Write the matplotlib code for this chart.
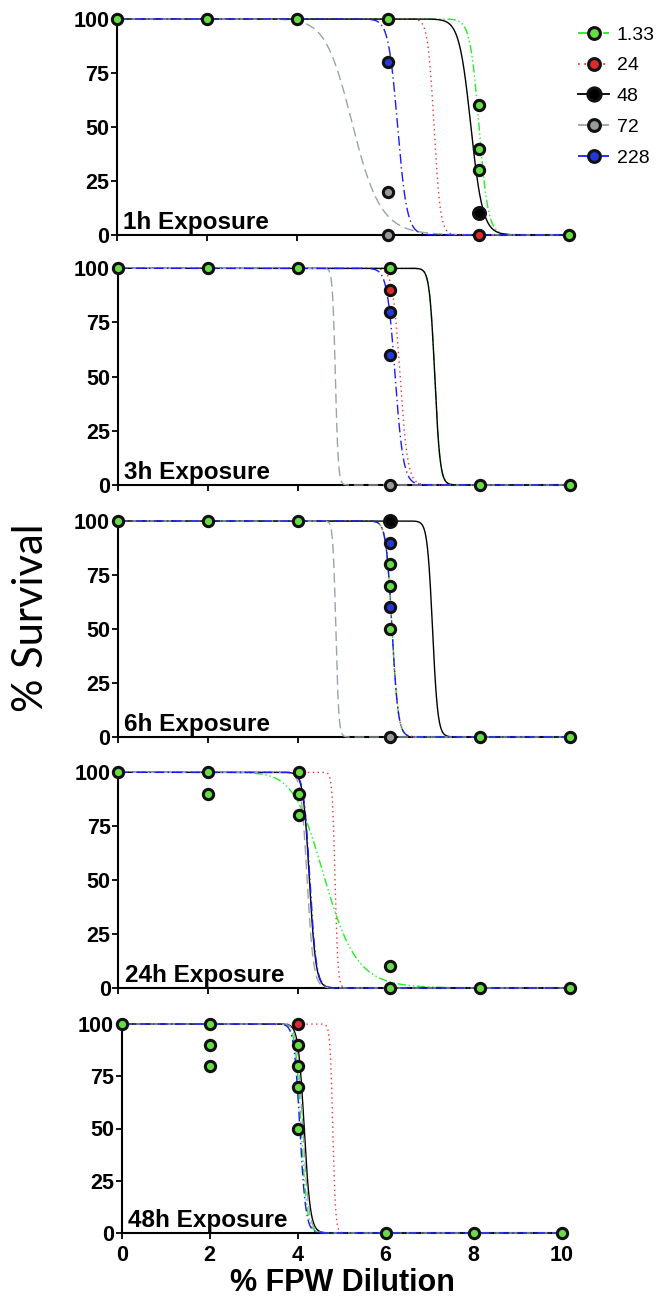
import numpy as np
import matplotlib
matplotlib.use('Agg')
import matplotlib.pyplot as plt
from matplotlib.lines import Line2D

plt.rcParams['font.family'] = ['Liberation Sans', 'DejaVu Sans']

# series (FPW age / label) and styles
labels = ['1.33', '24', '48', '72', '228']
face_colors = ['#66dd44', '#dd2a2a', '#000000', '#999999', '#2438d8']
line_colors = ['#22ee22', '#ee3333', '#000000', '#98a4ac', '#1a1aff']
line_styles = [(0, (6, 2, 1, 2, 1, 2)), (0, (1, 2.5)), '-', (0, (7, 3.5)), (0, (7, 2.5, 1, 2.5))]
draw_order = [2, 3, 4, 1, 0]

exposures = ['1h Exposure', '3h Exposure', '6h Exposure', '24h Exposure', '48h Exposure']

# fitted curve parameters per panel (EC50 in % dilution, hill slope), order = labels
ec50_1h = [8.05, 7.05, 7.87, 5.25, 6.24]
hill_1h = [80, 100, 60, 17, 60]
ec50_3h = [7.05, 6.28, 7.05, 4.84, 6.17]
hill_3h = [120, 75, 120, 150, 68]
ec50_6h = [6.1, 6.1, 7.0, 4.85, 6.1]
hill_6h = [90, 90, 120, 150, 90]
ec50_24h = [4.6, 4.82, 4.25, 4.2, 4.26]
hill_24h = [13, 150, 60, 60, 60]
ec50_48h = [4.08, 4.8, 4.15, 4.12, 4.05]
hill_48h = [60, 150, 60, 60, 60]

# visible data points per panel: label -> (x, y)
pts_1h = {
    '1.33': ([0, 2, 4, 6.03, 8.05, 8.05, 8.05, 10.05], [100, 100, 100, 100, 60, 40, 30, 0]),
    '24': ([8.05], [0]),
    '48': ([8.05], [10]),
    '72': ([6.03, 6.03], [20, 0]),
    '228': ([6.03], [80]),
}
pts_3h = {
    '1.33': ([0, 2, 4, 6.05, 8.05, 10.05], [100, 100, 100, 100, 0, 0]),
    '24': ([6.05], [90]),
    '72': ([6.05], [0]),
    '228': ([6.05, 6.05], [80, 60]),
}
pts_6h = {
    '1.33': ([0, 2, 4, 6.05, 6.05, 6.05, 8.05, 10.05], [100, 100, 100, 80, 70, 50, 0, 0]),
    '48': ([6.05], [100]),
    '72': ([6.05], [0]),
    '228': ([6.05, 6.05], [90, 60]),
}
pts_24h = {
    '1.33': ([0, 2, 2, 4.02, 4.02, 4.02, 6.05, 6.05, 8.05, 10.05],
             [100, 100, 90, 100, 90, 80, 10, 0, 0, 0]),
}
pts_48h = {
    '1.33': ([0, 2, 2, 2, 4, 4, 4, 4, 6, 8, 10], [100, 100, 90, 80, 90, 80, 70, 50, 0, 0, 0]),
    '24': ([4], [100]),
}

panels = [
    (ec50_1h, hill_1h, pts_1h),
    (ec50_3h, hill_3h, pts_3h),
    (ec50_6h, hill_6h, pts_6h),
    (ec50_24h, hill_24h, pts_24h),
    (ec50_48h, hill_48h, pts_48h),
]

W, H = 663, 1299
# axes boxes in pixels: left, top, right, bottom
boxes = [
    (117, 19, 117 + 452, 235),
    (117.7, 268.3, 117.7 + 452, 485),
    (117.7, 521, 117.7 + 452, 737),
    (118.3, 772.3, 118.3 + 452, 988),
    (121.7, 1024, 121.7 + 442, 1233),
]


def hill(x, ec50, h):
    return 100.0 / (1.0 + (x / ec50) ** h)


fig = plt.figure(figsize=(W / 100, H / 100), dpi=100)
xs = np.linspace(0, 10.05, 1500)

axes = []
for i, ((ec50s, slopes, pts), box) in enumerate(zip(panels, boxes)):
    l, t, r, b = box
    ax = fig.add_axes([l / W, 1 - b / H, (r - l) / W, (b - t) / H])
    axes.append(ax)
    for k in draw_order:
        ax.plot(xs, hill(xs, ec50s[k], slopes[k]), color=line_colors[k],
                linestyle=line_styles[k], linewidth=1.0, clip_on=False, zorder=2 + 0.1 * k)
    for k in draw_order:
        lab = labels[k]
        if lab in pts:
            px, py = pts[lab]
            ms = 8.6 if lab == '48' else 7.4
            ax.plot(px, py, linestyle='none', marker='o', markersize=ms,
                    markerfacecolor=face_colors[k], markeredgecolor='#111111',
                    markeredgewidth=2.2, clip_on=False, zorder=5)
    ax.set_xlim(0, 10.05)
    ax.set_ylim(0, 100)
    ax.set_yticks([0, 25, 50, 75, 100])
    ax.set_xticks([0, 2, 4, 6, 8, 10])
    for s in ['top', 'right']:
        ax.spines[s].set_visible(False)
    for s in ['left', 'bottom']:
        ax.spines[s].set_linewidth(1.5)
        ax.spines[s].set_zorder(1)
    ax.tick_params(axis='both', direction='out', length=4.5, width=1.3, pad=1)
    ax.tick_params(axis='y', labelsize=15.5)
    for lbl in ax.get_yticklabels():
        lbl.set_fontweight('bold')
    if i < 4:
        ax.tick_params(axis='x', labelbottom=False)
    else:
        ax.tick_params(axis='x', labelsize=15.5, pad=4)
        for lbl in ax.get_xticklabels():
            lbl.set_fontweight('bold')
    ax.text(0.14, 2.8, exposures[i], fontsize=17.5, fontweight='bold', ha='left',
            va='baseline', zorder=6)

fig.text(342 / W, 1 - 1291 / H, '% FPW Dilution', ha='center', va='baseline',
         fontsize=22, fontweight='bold')

fig.text(31.5 / W, 1 - 618 / H, '% Survival', rotation=90, ha='center', va='center',
         fontsize=30, family=['Lato', 'DejaVu Sans'])

handles = [Line2D([], [], color=line_colors[k], linestyle=line_styles[k], linewidth=1.3,
                  marker='o', markersize=9.5 if labels[k] == '48' else 8.5,
                  markerfacecolor=face_colors[k], markeredgecolor='#111111',
                  markeredgewidth=2.2) for k in range(5)]
fig.legend(handles, labels, loc='upper left', bbox_to_anchor=(578 / W, 1 - 26 / H),
           frameon=False, fontsize=14, handlelength=1.6, handletextpad=0.4,
           labelspacing=0.68, borderpad=0, borderaxespad=0)

fig.savefig('out.png', dpi=100)
